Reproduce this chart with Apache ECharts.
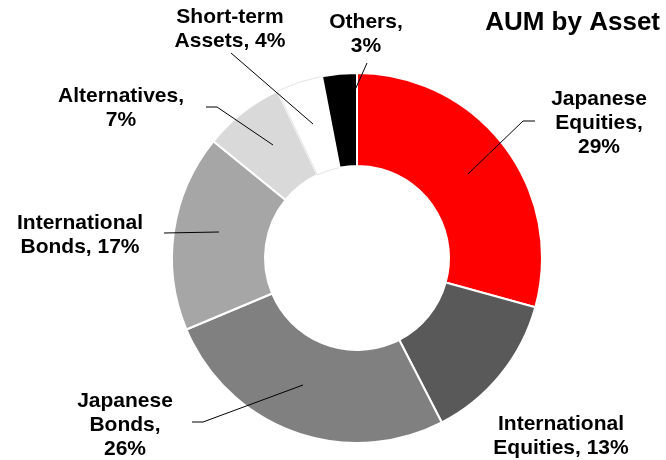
<!DOCTYPE html>
<html>
<head>
<meta charset="utf-8">
<script src="https://cdn.jsdelivr.net/npm/echarts@6/dist/echarts.min.js"></script>
<style>
  html, body { margin: 0; padding: 0; background: #fff; }
  #chart { width: 666px; height: 460px; }
</style>
</head>
<body>
<div id="chart"></div>
<script>
// data (clockwise from 12 o'clock)
const categories = ['Japanese Equities', 'International Equities', 'Japanese Bonds',
    'International Bonds', 'Alternatives', 'Short-term Assets', 'Others'];
const values = [29, 13, 26, 17, 7, 4, 3];
// label text, {v} gets the value
const labelTemplates = [
    'Japanese\nEquities,\n{v}%',
    'International\nEquities, {v}%',
    'Japanese\nBonds,\n{v}%',
    'International\nBonds, {v}%',
    'Alternatives,\n{v}%',
    'Short-term\nAssets, {v}%',
    'Others,\n{v}%'
];

// styles
const colors = ['#ff0000', '#595959', '#808080', '#a6a6a6', '#d9d9d9', '#ffffff', '#000000'];
// label centres and leader lines (slice point, bend, label end)
const labelPos = [
    [599, 123], [561, 436], [125, 425], [80, 235], [121, 108], [230, 29], [366, 34]
];
const leaderLines = [
    [[468, 174], [523, 121], [535, 121]],
    null,
    [[303, 385], [203, 422], [192, 422]],
    [[219, 232], [164, 233]],
    [[273, 145], [217, 107], [206, 107]],
    [[313, 124], [231, 53]],
    [[355, 90], [367, 63]]
];

const chart = echarts.init(document.getElementById('chart'));

const pieData = categories.map((name, i) => ({
    name: name,
    value: values[i],
    itemStyle: {
        color: colors[i],
        borderColor: colors[i] === '#ffffff' ? '#e4e4e4' : '#ffffff',
        borderWidth: colors[i] === '#ffffff' ? 1 : 2
    }
}));

// leader lines drawn on top of the ring
const lineGraphics = leaderLines.filter(pts => pts).map(pts => ({
    type: 'polyline',
    z: 100,
    silent: true,
    shape: { points: pts },
    style: { stroke: '#000', lineWidth: 1, fill: null }
}));

const option = {
    backgroundColor: '#ffffff',
    animation: false,
    title: {
        text: 'AUM by Asset',
        right: 1,
        top: 5,
        textStyle: {
            fontFamily: 'Liberation Sans',
            fontWeight: 'bold',
            fontSize: 26,
            lineHeight: 26,
            color: '#000'
        }
    },
    graphic: lineGraphics,
    series: [{
        type: 'pie',
        center: [357, 258],
        radius: [92, 185],
        startAngle: 90,
        clockwise: true,
        avoidLabelOverlap: false,
        data: pieData,
        label: {
            show: true,
            position: 'outside',
            color: '#000',
            fontFamily: 'Liberation Sans',
            fontWeight: 'bold',
            fontSize: 21,
            lineHeight: 24,
            align: 'center',
            formatter: p => labelTemplates[p.dataIndex].replace('{v}', p.value)
        },
        labelLine: { show: false },
        labelLayout: function (params) {
            const i = params.dataIndex;
            return {
                x: labelPos[i][0],
                y: labelPos[i][1],
                align: 'center',
                verticalAlign: 'middle'
            };
        },
        emphasis: { disabled: true }
    }]
};

chart.setOption(option);
</script>
</body>
</html>
